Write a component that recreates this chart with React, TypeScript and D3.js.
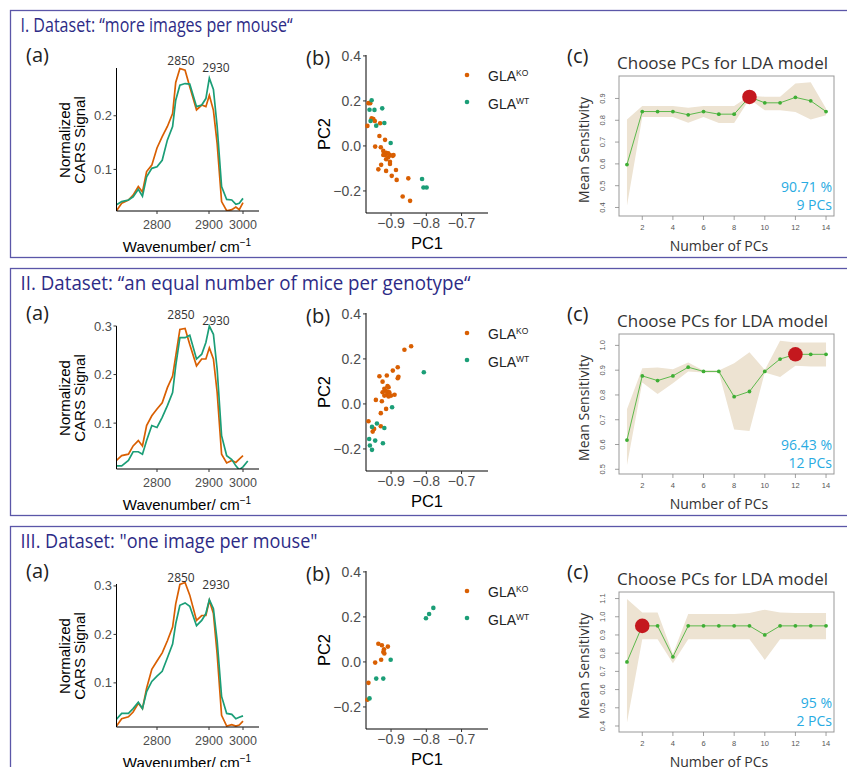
import React from "react";
import * as d3 from "d3";

// (a) spectra, one shared wavenumber grid
const wavenumbers = [2722, 2732, 2745, 2754, 2764, 2772, 2780, 2790, 2800, 2810, 2820, 2830, 2836, 2844, 2854, 2863, 2876, 2886, 2894, 2901, 2913, 2924, 2937, 2952, 2967, 2979, 2989, 3000, 3014];
const wnTicks = [2800, 2900, 3000];

const specKO1 = [0.023, 0.037, 0.043, 0.052, 0.068, 0.058, 0.096, 0.108, 0.140, 0.161, 0.180, 0.204, 0.262, 0.288, 0.285, 0.254, 0.211, 0.220, 0.217, 0.238, 0.210, 0.148, 0.040, 0.023, 0.025, 0.030, 0.025, 0.038];
const specWT1 = [0.034, 0.040, 0.043, 0.049, 0.063, 0.050, 0.086, 0.102, 0.105, 0.117, 0.155, 0.180, 0.229, 0.257, 0.260, 0.259, 0.217, 0.220, 0.232, 0.270, 0.249, 0.180, 0.068, 0.044, 0.043, 0.035, 0.037, 0.046];
const specKO2 = [0.023, 0.033, 0.036, 0.053, 0.064, 0.053, 0.095, 0.115, 0.129, 0.142, 0.173, 0.197, 0.238, 0.293, 0.295, 0.262, 0.218, 0.232, 0.232, 0.255, 0.232, 0.163, 0.036, 0.018, 0.023, 0.019, 0.026, 0.033];
const specWT2 = [0.012, 0.012, 0.023, 0.041, 0.041, 0.036, 0.064, 0.095, 0.091, 0.112, 0.136, 0.163, 0.218, 0.276, 0.276, 0.281, 0.232, 0.242, 0.266, 0.300, 0.283, 0.211, 0.074, 0.033, 0.025, 0.012, 0.004, 0.010, 0.022];
const specKO3 = [0.011, 0.026, 0.030, 0.040, 0.058, 0.047, 0.089, 0.128, 0.145, 0.162, 0.187, 0.215, 0.263, 0.303, 0.307, 0.281, 0.229, 0.239, 0.239, 0.270, 0.243, 0.159, 0.033, 0.011, 0.014, 0.011, 0.013, 0.021];
const specWT3 = [0.025, 0.037, 0.037, 0.047, 0.060, 0.047, 0.082, 0.103, 0.114, 0.124, 0.152, 0.180, 0.222, 0.260, 0.265, 0.258, 0.218, 0.229, 0.243, 0.272, 0.253, 0.187, 0.072, 0.037, 0.035, 0.026, 0.029, 0.032];

// (b) PCA scores [PC1, PC2]
const pcaKO1 = [[-0.964, 0.190], [-0.959, 0.190], [-0.967, 0.089], [-0.955, 0.123], [-0.950, 0.119], [-0.946, 0.111], [-0.931, 0.101], [-0.933, 0.044], [-0.917, 0.027], [-0.945, -0.003], [-0.929, -0.006], [-0.922, -0.022], [-0.917, -0.040], [-0.914, -0.030], [-0.908, -0.050], [-0.903, -0.041], [-0.895, -0.044], [-0.903, -0.070], [-0.914, -0.059], [-0.928, -0.084], [-0.936, -0.104], [-0.914, -0.111], [-0.903, -0.080], [-0.893, -0.040], [-0.898, -0.133], [-0.886, -0.107], [-0.884, -0.151], [-0.851, -0.144], [-0.867, -0.225], [-0.846, -0.244], [-0.908, -0.033], [-0.922, -0.040]];
const pcaWT1 = [[-0.955, 0.203], [-0.961, 0.161], [-0.947, 0.160], [-0.925, 0.167], [-0.958, 0.111], [-0.942, 0.090], [-0.919, 0.102], [-0.901, 0.013], [-0.812, -0.147], [-0.808, -0.185], [-0.799, -0.185]];
const pcaKO2 = [[-0.843, 0.256], [-0.862, 0.241], [-0.881, 0.163], [-0.895, 0.148], [-0.879, 0.121], [-0.881, 0.114], [-0.912, 0.126], [-0.933, 0.123], [-0.924, 0.099], [-0.919, 0.067], [-0.916, 0.059], [-0.910, 0.055], [-0.907, 0.074], [-0.905, 0.052], [-0.924, 0.052], [-0.919, 0.037], [-0.912, 0.040], [-0.900, 0.037], [-0.890, 0.041], [-0.907, 0.033], [-0.943, 0.018], [-0.926, 0.012], [-0.914, -0.022], [-0.929, -0.041], [-0.964, -0.077], [-0.948, -0.111], [-0.952, -0.123], [-0.929, -0.099], [-0.910, 0.079]];
const pcaWT2 = [[-0.807, 0.141], [-0.897, -0.015], [-0.954, -0.102], [-0.940, -0.087], [-0.919, -0.107], [-0.962, -0.156], [-0.945, -0.163], [-0.923, -0.175], [-0.960, -0.185], [-0.954, -0.204]];
const pcaKO3 = [[-0.936, 0.081], [-0.926, 0.074], [-0.909, 0.068], [-0.920, 0.056], [-0.922, 0.044], [-0.919, 0.038], [-0.928, 0.010], [-0.945, -0.003], [-0.964, -0.093], [-0.967, -0.168]];
const pcaWT3 = [[-0.780, 0.240], [-0.792, 0.213], [-0.801, 0.194], [-0.901, 0.010], [-0.942, -0.074], [-0.922, -0.074], [-0.961, -0.162]];
const pc1Ticks = [-0.9, -0.8, -0.7];
const pc2Ticks = [-0.2, 0, 0.2, 0.4];

// (c) LDA mean sensitivity vs number of PCs
const nPCs = [1, 2, 3, 4, 5, 6, 7, 8, 9, 10, 11, 12, 13, 14];
const pcTicks = [2, 4, 6, 8, 10, 12, 14];
const sens1 = [0.597, 0.840, 0.840, 0.840, 0.825, 0.840, 0.828, 0.828, 0.907, 0.880, 0.880, 0.905, 0.889, 0.840];
const sensHi1 = [0.803, 0.866, 0.866, 0.866, 0.857, 0.866, 0.866, 0.866, 0.912, 0.908, 0.908, 0.969, 0.974, 0.854];
const sensLo1 = [0.408, 0.815, 0.815, 0.815, 0.789, 0.815, 0.788, 0.788, 0.898, 0.846, 0.846, 0.838, 0.803, 0.823];
const sens2 = [0.618, 0.877, 0.858, 0.877, 0.912, 0.895, 0.895, 0.793, 0.814, 0.895, 0.945, 0.964, 0.964, 0.964];
const sensHi2 = [0.742, 0.908, 0.911, 0.904, 0.931, 0.899, 0.899, 0.928, 0.972, 0.901, 1.019, 1.012, 1.012, 1.012];
const sensLo2 = [0.516, 0.850, 0.804, 0.847, 0.895, 0.891, 0.891, 0.661, 0.655, 0.891, 0.872, 0.918, 0.915, 0.915];
const sens3 = [0.752, 0.950, 0.950, 0.780, 0.950, 0.950, 0.950, 0.950, 0.950, 0.900, 0.950, 0.950, 0.950, 0.950];
const sensHi3 = [1.097, 1.024, 1.024, 0.795, 1.015, 1.015, 1.015, 1.015, 1.020, 1.039, 1.024, 1.020, 1.020, 1.020];
const sensLo3 = [0.418, 0.877, 0.877, 0.745, 0.877, 0.877, 0.877, 0.877, 0.877, 0.763, 0.877, 0.877, 0.877, 0.877];

const KO = "#d95f02";
const WT = "#1b9e77";
const SANS = "'Open Sans', sans-serif";
const ARIAL = "'Liberation Sans', Arial, sans-serif";
const fmt = d3.format(".1f");

const rows = [
  {
    off: 0, title: "I. Dataset: \u201cmore images per mouse\u201c", titleW: 272,
    ko: specKO1, wt: specWT1, specDomain: [0.0225, 0.289], specTicks: [0.1, 0.2], peakY: [65, 72],
    pKO: pcaKO1, pWT: pcaWT1,
    sens: sens1, hi: sensHi1, lo: sensLo1, sDomain: [0.361, 1.003], sTicks: [0.4, 0.5, 0.6, 0.7, 0.8, 0.9], best: 9, pct: "90.71 %", pcs: "9 PCs",
  },
  {
    off: 258, title: "II. Dataset: \u201can equal number of mice per genotype\u201c", titleW: 450,
    ko: specKO2, wt: specWT2, specDomain: [0.0055, 0.3], specTicks: [0.1, 0.2, 0.3], peakY: [61, 67],
    pKO: pcaKO2, pWT: pcaWT2,
    sens: sens2, hi: sensHi2, lo: sensLo2, sDomain: [0.481, 1.046], sTicks: [0.5, 0.6, 0.7, 0.8, 0.9, 1.0], best: 12, pct: "96.43 %", pcs: "12 PCs",
  },
  {
    off: 516, title: "III. Dataset: \"one image per mouse\"", titleW: 297,
    ko: specKO3, wt: specWT3, specDomain: [0.009, 0.304], specTicks: [0.1, 0.2, 0.3], peakY: [66, 73],
    pKO: pcaKO3, pWT: pcaWT3,
    sens: sens3, hi: sensHi3, lo: sensLo3, sDomain: [0.367, 1.136], sTicks: [0.4, 0.5, 0.6, 0.7, 0.8, 0.9, 1.0, 1.1], best: 2, pct: "95 %", pcs: "2 PCs",
  },
];

function Spectrum({ r, idx }) {
  const x = d3.scaleLinear().domain([2722, 2800, 2900, 3000, 3047]).range([116.5, 157, 209, 243, 259]);
  const y = d3.scaleLinear().domain(r.specDomain).range([211, 68]);
  const line = d3.line<number>().x((_, i) => x(wavenumbers[i])).y(v => y(v));
  const clip = `spec-clip-${idx}`;
  return (
    <g>
      <text x={26} y={62} fontFamily={SANS} fontSize={20} fill="#222">(a)</text>
      <clipPath id={clip}><rect x={116.5} y={60} width={143} height={151} /></clipPath>
      <g clipPath={`url(#${clip})`}>
        <path d={line(r.ko) || ""} fill="none" stroke={KO} strokeWidth={1.7} />
        <path d={line(r.wt) || ""} fill="none" stroke={WT} strokeWidth={1.7} />
      </g>
      <line x1={116.5} x2={116.5} y1={68} y2={211} stroke="#000" strokeWidth={1} />
      <line x1={116.5} x2={259} y1={211} y2={211} stroke="#000" strokeWidth={1} />
      {r.specTicks.map(t => (
        <g key={t}>
          <line x1={113.5} x2={116.5} y1={y(t)} y2={y(t)} stroke="#333" />
          <text x={112} y={y(t)} dy="0.35em" textAnchor="end" fontFamily={ARIAL} fontSize={13} fill="#4d4d4d">{fmt(t)}</text>
        </g>
      ))}
      {wnTicks.map(t => (
        <g key={t}>
          <line x1={x(t)} x2={x(t)} y1={211} y2={214} stroke="#333" />
          <text x={x(t)} y={229} textAnchor="middle" fontFamily={ARIAL} fontSize={12.5} fill="#4d4d4d">{t}</text>
        </g>
      ))}
      <text x={181} y={r.peakY[0]} textAnchor="middle" fontFamily={SANS} fontSize={12} fill="#333">2850</text>
      <text x={216} y={r.peakY[1]} textAnchor="middle" fontFamily={SANS} fontSize={12} fill="#333">2930</text>
      <text transform="translate(70,140) rotate(-90)" textAnchor="middle" fontFamily={ARIAL} fontSize={15}>Normalized</text>
      <text transform="translate(84.5,140) rotate(-90)" textAnchor="middle" fontFamily={ARIAL} fontSize={15}>CARS Signal</text>
      <text x={187} y={252} textAnchor="middle" fontFamily={ARIAL} fontSize={15}>
        Wavenumber/ cm<tspan dy={-6} fontSize={10}>−1</tspan>
      </text>
    </g>
  );
}

function Pca({ r }) {
  const x = d3.scaleLinear().domain([-0.971, -0.625]).range([366, 488]);
  const y = d3.scaleLinear().domain([-0.298, 0.404]).range([213, 55]);
  return (
    <g>
      <text x={306} y={65} fontFamily={SANS} fontSize={20} fill="#222">(b)</text>
      <line x1={366} x2={366} y1={55} y2={213} stroke="#000" />
      <line x1={366} x2={488} y1={213} y2={213} stroke="#000" />
      {pc2Ticks.map(t => (
        <g key={t}>
          <line x1={363} x2={366} y1={y(t)} y2={y(t)} stroke="#333" />
          <text x={361} y={y(t)} dy="0.35em" textAnchor="end" fontFamily={ARIAL} fontSize={14} fill="#4d4d4d">{fmt(t)}</text>
        </g>
      ))}
      {pc1Ticks.map(t => (
        <g key={t}>
          <line x1={x(t)} x2={x(t)} y1={213} y2={216} stroke="#333" />
          <text x={x(t)} y={228} textAnchor="middle" fontFamily={ARIAL} fontSize={14} fill="#4d4d4d">{fmt(t)}</text>
        </g>
      ))}
      {r.pKO.map((d, i) => <circle key={"k" + i} cx={x(d[0])} cy={y(d[1])} r={2.3} fill={KO} />)}
      {r.pWT.map((d, i) => <circle key={"w" + i} cx={x(d[0])} cy={y(d[1])} r={2.3} fill={WT} />)}
      <text transform="translate(330,134) rotate(-90)" textAnchor="middle" fontFamily={ARIAL} fontSize={16.5}>PC2</text>
      <text x={427} y={249} textAnchor="middle" fontFamily={ARIAL} fontSize={16.5}>PC1</text>
      <circle cx={467} cy={75} r={2.3} fill={KO} />
      <text x={488} y={81} fontFamily={ARIAL} fontSize={14} fill="#222">GLA<tspan dy={-5} fontSize={8.5}>KO</tspan></text>
      <circle cx={467} cy={102} r={2.3} fill={WT} />
      <text x={488} y={108.5} fontFamily={ARIAL} fontSize={14} fill="#222">GLA<tspan dy={-5} fontSize={8.5}>WT</tspan></text>
    </g>
  );
}

function Lda({ r }) {
  const x = d3.scaleLinear().domain([0.48, 14.52]).range([619, 834]);
  const y = d3.scaleLinear().domain(r.sDomain).range([216, 76]);
  const area = d3.area<number>().x(d => x(d)).y0((_, i) => y(r.lo[i])).y1((_, i) => y(r.hi[i]));
  const line = d3.line<number>().x(d => x(d)).y((_, i) => y(r.sens[i]));
  const bi = nPCs.indexOf(r.best);
  return (
    <g>
      <text x={567} y={63} fontFamily={SANS} fontSize={20} fill="#222">(c)</text>
      <text x={617} y={69} fontFamily={SANS} fontSize={17} fill="#333">Choose PCs for LDA model</text>
      <path d={area(nPCs) || ""} fill="#ede3d2" />
      <path d={line(nPCs) || ""} fill="none" stroke="#4db33d" strokeWidth={0.9} />
      {nPCs.map((d, i) => <circle key={d} cx={x(d)} cy={y(r.sens[i])} r={1.9} fill="#3fae35" />)}
      <circle cx={x(r.best)} cy={y(r.sens[bi])} r={7.3} fill="#c4181e" />
      <rect x={619} y={76} width={215} height={140} fill="none" stroke="#999" strokeWidth={1} />
      {r.sTicks.map(t => (
        <g key={t}>
          <line x1={615} x2={619} y1={y(t)} y2={y(t)} stroke="#888" strokeWidth={0.8} />
          <text transform={`translate(605,${y(t)}) rotate(-90)`} textAnchor="middle" fontFamily={ARIAL} fontSize={7.5} fill="#555">{fmt(t)}</text>
        </g>
      ))}
      {pcTicks.map(t => (
        <g key={t}>
          <line x1={x(t)} x2={x(t)} y1={216} y2={220} stroke="#888" strokeWidth={0.8} />
          <text x={x(t)} y={230} textAnchor="middle" fontFamily={ARIAL} fontSize={7.5} fill="#555">{t}</text>
        </g>
      ))}
      <text x={832} y={192} textAnchor="end" fontFamily={SANS} fontSize={14} fill="#29abe2">{r.pct}</text>
      <text x={832} y={210} textAnchor="end" fontFamily={SANS} fontSize={14} fill="#29abe2">{r.pcs}</text>
      <text transform="translate(589,150) rotate(-90)" textAnchor="middle" fontFamily={SANS} fontSize={14} fill="#333">Mean Sensitivity</text>
      <text x={719} y={251} textAnchor="middle" fontFamily={SANS} fontSize={14} fill="#333">Number of PCs</text>
    </g>
  );
}

export default function App() {
  return (
    <div>
      <style>{`body{margin:0}`}</style>
      <svg width={847} height={767} style={{ display: "block", background: "#fff" }}>
        {rows.map((r, i) => (
          <g key={i} transform={`translate(0,${r.off})`}>
            <rect x={10.5} y={10.5} width={850} height={247} fill="none" stroke="#5b56a8" strokeWidth={1.3} />
            <text x={20.5} y={32} fontFamily={SANS} fontSize={20} fill="#2d2b86" textLength={r.titleW} lengthAdjust="spacingAndGlyphs">{r.title}</text>
            <Spectrum r={r} idx={i} />
            <Pca r={r} />
            <Lda r={r} />
          </g>
        ))}
      </svg>
    </div>
  );
}
